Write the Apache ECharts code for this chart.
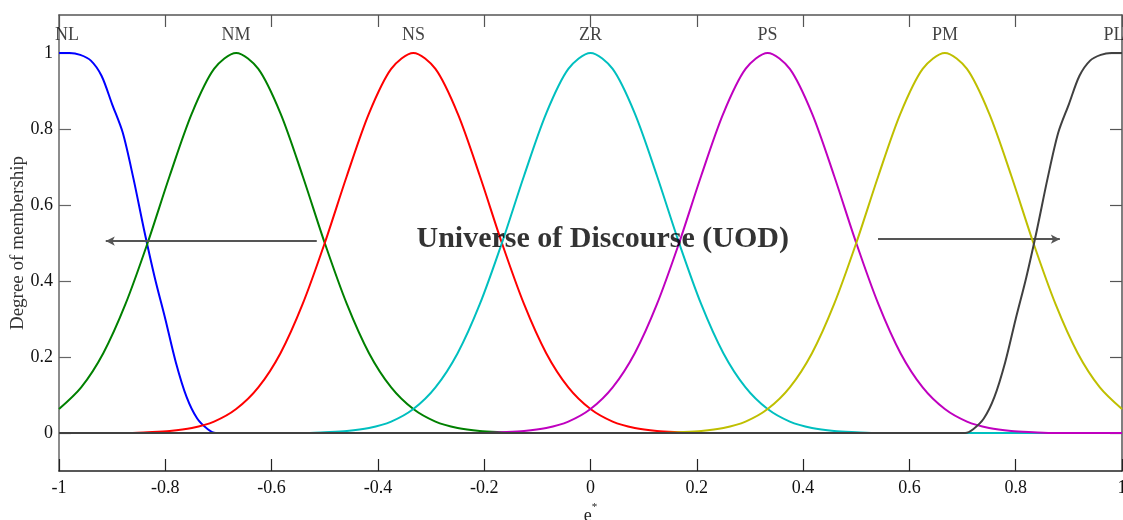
<!DOCTYPE html>
<html>
<head>
<meta charset="utf-8">
<script src="https://cdn.jsdelivr.net/npm/echarts@6/dist/echarts.min.js"></script>
<style>
html,body{margin:0;padding:0;background:#fff;}
#chart{width:1123px;height:520px;}
</style>
</head>
<body>
<div id="chart"></div>
<script>
// ---- data ----
const setNames = ['NL', 'NM', 'NS', 'ZR', 'PS', 'PM', 'PL'];
const setColors = ['#0000ff', '#008000', '#ff0000', '#00bfbf', '#bf00bf', '#bfbf00', '#404040'];
const labelX = [-0.985, -0.667, -0.333, 0, 0.333, 0.667, 0.985];
const labelY = 1.047;

// shared x grid for the bell-shaped sets
const xs = [-1, -0.9583, -0.9167, -0.875, -0.8333, -0.7917, -0.75, -0.7083, -0.6667, -0.625,
  -0.5833, -0.5417, -0.5, -0.4583, -0.4167, -0.375, -0.3333, -0.2917, -0.25, -0.2083,
  -0.1667, -0.125, -0.0833, -0.0417, 0, 0.0417, 0.0833, 0.125, 0.1667, 0.2083,
  0.25, 0.2917, 0.3333, 0.375, 0.4167, 0.4583, 0.5, 0.5417, 0.5833, 0.625,
  0.6667, 0.7083, 0.75, 0.7917, 0.8333, 0.875, 0.9167, 0.9583, 1];

const NM = [0.063, 0.12, 0.21, 0.339, 0.5, 0.677, 0.841, 0.958, 1, 0.958,
  0.841, 0.677, 0.5, 0.339, 0.21, 0.12, 0.063, 0.03, 0.013, 0.005,
  0.002, 0, 0, 0, 0, 0, 0, 0, 0, 0,
  0, 0, 0, 0, 0, 0, 0, 0, 0, 0,
  0, 0, 0, 0, 0, 0, 0, 0, 0];
const NS = [0, 0, 0, 0, 0.002, 0.005, 0.013, 0.03, 0.063, 0.12,
  0.21, 0.339, 0.5, 0.677, 0.841, 0.958, 1, 0.958, 0.841, 0.677,
  0.5, 0.339, 0.21, 0.12, 0.063, 0.03, 0.013, 0.005, 0.002, 0,
  0, 0, 0, 0, 0, 0, 0, 0, 0, 0,
  0, 0, 0, 0, 0, 0, 0, 0, 0];
const ZR = [0, 0, 0, 0, 0, 0, 0, 0, 0, 0,
  0, 0, 0.002, 0.005, 0.013, 0.03, 0.063, 0.12, 0.21, 0.339,
  0.5, 0.677, 0.841, 0.958, 1, 0.958, 0.841, 0.677, 0.5, 0.339,
  0.21, 0.12, 0.063, 0.03, 0.013, 0.005, 0.002, 0, 0, 0,
  0, 0, 0, 0, 0, 0, 0, 0, 0];
const PS = [0, 0, 0, 0, 0, 0, 0, 0, 0, 0,
  0, 0, 0, 0, 0, 0, 0, 0, 0, 0,
  0.002, 0.005, 0.013, 0.03, 0.063, 0.12, 0.21, 0.339, 0.5, 0.677,
  0.841, 0.958, 1, 0.958, 0.841, 0.677, 0.5, 0.339, 0.21, 0.12,
  0.063, 0.03, 0.013, 0.005, 0.002, 0, 0, 0, 0];
const PM = [0, 0, 0, 0, 0, 0, 0, 0, 0, 0,
  0, 0, 0, 0, 0, 0, 0, 0, 0, 0,
  0, 0, 0, 0, 0, 0, 0, 0, 0.002, 0.005,
  0.013, 0.03, 0.063, 0.12, 0.21, 0.339, 0.5, 0.677, 0.841, 0.958,
  1, 0.958, 0.841, 0.677, 0.5, 0.339, 0.21, 0.12, 0.063];

// shoulder sets (own x samples)
const NL_x = [-1, -0.98, -0.96, -0.94, -0.92, -0.9, -0.88, -0.86, -0.84, -0.82, -0.8, -0.78, -0.76, -0.74, -0.72, -0.705, 1];
const NL_y = [1, 1, 0.995, 0.98, 0.94, 0.865, 0.79, 0.67, 0.535, 0.41, 0.3, 0.185, 0.095, 0.038, 0.01, 0, 0];
const PL_x = [-1, 0.705, 0.72, 0.74, 0.76, 0.78, 0.8, 0.82, 0.84, 0.86, 0.88, 0.9, 0.92, 0.94, 0.96, 0.98, 1];
const PL_y = [0, 0, 0.01, 0.038, 0.095, 0.185, 0.3, 0.41, 0.535, 0.67, 0.79, 0.865, 0.94, 0.98, 0.995, 1, 1];

const xTicks = [-1, -0.8, -0.6, -0.4, -0.2, 0, 0.2, 0.4, 0.6, 0.8, 1];
const yTicks = [0, 0.2, 0.4, 0.6, 0.8, 1];

// annotations (data coordinates)
const uodText = 'Universe of Discourse (UOD)';
const uodPos = [0.023, 0.51];
const leftArrow = [[-0.515, 0.505], [-0.912, 0.505]];
const rightArrow = [[0.541, 0.51], [0.883, 0.51]];

// ---- chart ----
const serif = '"Liberation Serif", "Times New Roman", serif';
const pairs = (xv, yv) => xv.map((x, i) => [x, yv[i]]);
const seriesData = [
  pairs(NL_x, NL_y), pairs(xs, NM), pairs(xs, NS), pairs(xs, ZR),
  pairs(xs, PS), pairs(xs, PM), pairs(PL_x, PL_y)
];

const axisCommon = (pos, color, showLabel) => ({
  type: 'value', position: pos,
  min: -1, max: 1,
  axisLine: { show: true, onZero: false, lineStyle: { color: color, width: 1.5 } },
  axisTick: { show: true, inside: true, length: 12, customValues: xTicks, lineStyle: { color: color, width: 1.2 } },
  axisLabel: { show: showLabel, customValues: xTicks, fontFamily: serif, fontSize: 18, color: '#111', margin: 8 },
  splitLine: { show: false }
});
const yAxisCommon = (pos, color, showLabel) => ({
  type: 'value', position: pos,
  min: -0.1, max: 1.1,
  axisLine: { show: true, onZero: false, lineStyle: { color: color, width: 1.5 } },
  axisTick: { show: true, inside: true, length: 12, customValues: yTicks, lineStyle: { color: color, width: 1.2 } },
  axisLabel: { show: showLabel, customValues: yTicks, fontFamily: serif, fontSize: 18, color: '#111', margin: 6 },
  splitLine: { show: false }
});

const xBottom = axisCommon('bottom', '#222', true);
xBottom.name = '{e|e}{s|*}';
xBottom.nameLocation = 'middle';
xBottom.nameGap = 31;
xBottom.nameMoveOverlap = false;
xBottom.nameTextStyle = {
  rich: {
    e: { fontFamily: serif, fontSize: 18, color: '#222', verticalAlign: 'bottom' },
    s: { fontFamily: serif, fontSize: 11, color: '#222', verticalAlign: 'top', padding: [0, 0, 12, 0] }
  }
};
const xTop = axisCommon('top', '#555', false);
const yLeft = yAxisCommon('left', '#666', true);
yLeft.name = 'Degree of membership';
yLeft.nameLocation = 'middle';
yLeft.nameRotate = 90;
yLeft.nameGap = 31;
yLeft.nameMoveOverlap = false;
yLeft.nameTextStyle = { fontFamily: serif, fontSize: 19, color: '#333' };
const yRight = yAxisCommon('right', '#555', false);

const series = seriesData.map((d, i) => ({
  type: 'line', name: setNames[i], data: d,
  xAxisIndex: 0, yAxisIndex: 0,
  showSymbol: false, smooth: 0.3,
  lineStyle: { color: setColors[i], width: 2 },
  itemStyle: { color: setColors[i] },
  z: 2 + i, silent: true
}));

series.push({
  type: 'scatter', name: 'labels', xAxisIndex: 0, yAxisIndex: 0,
  symbolSize: 0, silent: true,
  data: labelX.map((x, i) => ({ value: [x, labelY], name: setNames[i] })),
  label: { show: true, position: 'inside', formatter: '{b}', fontFamily: serif, fontSize: 18, color: '#111' }
});
series.push({
  type: 'scatter', name: 'uod', xAxisIndex: 0, yAxisIndex: 0,
  symbolSize: 0, silent: true, z: 20,
  data: [{ value: uodPos, name: uodText }],
  label: { show: true, position: 'inside', formatter: '{b}', fontFamily: serif, fontWeight: 'bold', fontSize: 30, color: '#000' },
  markLine: {
    silent: true, symbol: ['none', 'arrow'], symbolSize: [7, 9],
    label: { show: false },
    lineStyle: { color: '#555', width: 2, type: 'solid' },
    emphasis: { disabled: true },
    data: [
      [{ coord: leftArrow[0] }, { coord: leftArrow[1] }],
      [{ coord: rightArrow[0] }, { coord: rightArrow[1] }]
    ]
  }
});

const chart = echarts.init(document.getElementById('chart'), null, { renderer: 'canvas' });
chart.setOption({
  animation: false,
  backgroundColor: '#fff',
  grid: { left: 59, right: 1, top: 15, bottom: 49, containLabel: false, outerBoundsMode: 'none' },
  xAxis: [xBottom, xTop],
  yAxis: [yLeft, yRight],
  series: series
});
</script>
</body>
</html>
